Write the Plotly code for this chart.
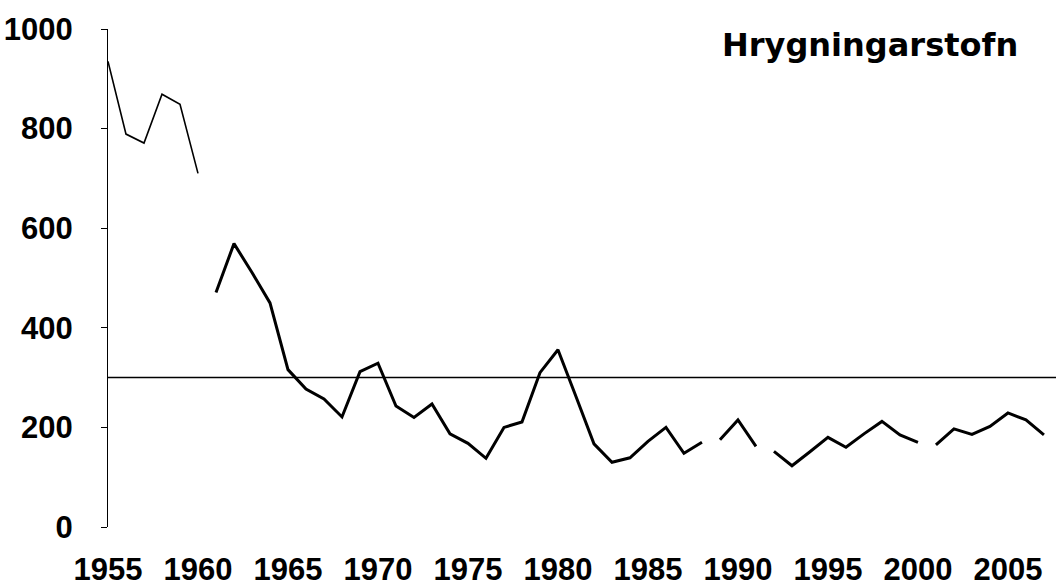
import plotly.graph_objects as go

years = list(range(1955, 2008))
spawning_stock = [935, 789, 771, 869, 849, 710,
                  471, 569, 511, 450, 316, 277, 257, 221, 312, 329,
                  243, 220, 247, 187, 168, 138, 200, 211, 310, 356,
                  262, 167, 130, 139, 172, 200, 148, 170, 175, 215,
                  162, 152, 123, 151, 180, 160, 187, 212, 185, 170,
                  165, 197, 186, 202, 229, 215, 185]
# line is broken after these years in the original drawing
segment_ends = [1960, 1988, 1991, 2000, 2007]
reference_level = 300
title_text = "Hrygningarstofn"
y_ticks = [0, 200, 400, 600, 800, 1000]
x_ticks = [1955, 1960, 1965, 1970, 1975, 1980, 1985, 1990, 1995, 2000, 2005]

fig = go.Figure()

start = 0
for i, end_year in enumerate(segment_ends):
    stop = years.index(end_year) + 1
    fig.add_trace(go.Scatter(
        x=years[start:stop], y=spawning_stock[start:stop],
        mode="lines",
        line=dict(color="black", width=1.6 if i == 0 else 3),
        showlegend=False, cliponaxis=False, hoverinfo="x+y"))
    start = stop

fig.add_shape(type="line", xref="paper", x0=0, x1=1, yref="y",
              y0=reference_level, y1=reference_level,
              line=dict(color="black", width=1.5))

fig.add_annotation(text="<b>" + title_text + "</b>", xref="paper", yref="paper",
                   x=0.962, y=0.968, xanchor="right", yanchor="middle",
                   showarrow=False,
                   font=dict(family="DejaVu Sans", size=32, color="black"))

tick_font = dict(family="Liberation Sans", size=31, color="black", weight="bold")

fig.update_layout(
    width=1056, height=587,
    margin=dict(l=108, r=0, t=29, b=60),
    paper_bgcolor="white", plot_bgcolor="white",
    xaxis=dict(range=[1955, 2007.67], tickvals=x_ticks,
               ticktext=[str(v) for v in x_ticks],
               showline=False, ticks="", showgrid=False, zeroline=False,
               tickfont=tick_font, ticklabelstandoff=21),
    yaxis=dict(range=[0, 1000], tickvals=y_ticks,
               showline=True, linecolor="black", linewidth=1,
               ticks="outside", ticklen=6, tickcolor="black", tickwidth=1,
               showgrid=False, zeroline=False,
               tickfont=tick_font, ticklabelstandoff=22),
)

fig.write_html("out.html",
               config={"displayModeBar": False},
               post_script="document.body.style.margin='0';"
                           "document.body.style.overflow='hidden';")
